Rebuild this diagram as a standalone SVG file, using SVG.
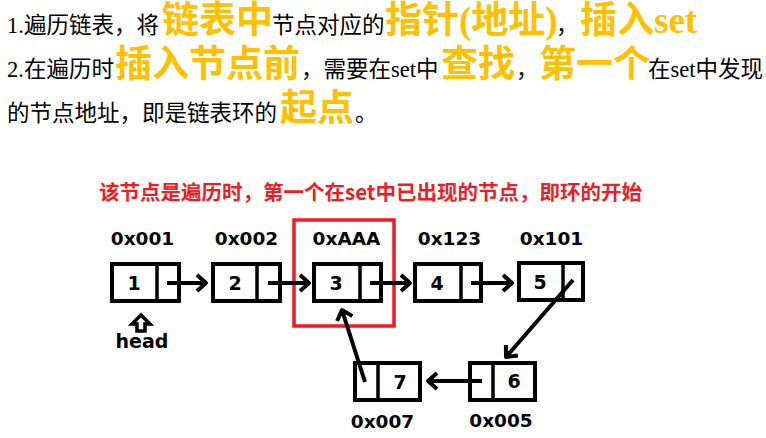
<svg xmlns="http://www.w3.org/2000/svg" width="766" height="438" viewBox="0 0 766 438">
<style>
.t{font-family:"Liberation Serif","Noto Sans CJK SC",serif;font-size:22.5px;fill:#000}
.hl{font-size:37px;font-weight:bold;fill:#FFC000}
.title{font-family:"Noto Sans CJK SC","Noto Sans",sans-serif;font-size:20.5px;font-weight:bold;fill:#EE1C25}
.lbl{font-family:"DejaVu Sans",sans-serif;font-weight:bold;font-size:18.5px;fill:#000;text-anchor:middle}
.num{font-family:"DejaVu Sans",sans-serif;font-weight:bold;font-size:19px;fill:#000;text-anchor:middle}
.box{fill:#fff;stroke:#000;stroke-width:4}
.div{stroke:#000;stroke-width:3.5}
.link{stroke:#000;stroke-width:4;fill:none;marker-end:url(#chev)}
</style>
<defs>
<marker id="chev" markerUnits="userSpaceOnUse" viewBox="0 0 16 20" refX="12" refY="10" markerWidth="16" markerHeight="20" orient="auto" overflow="visible">
<path d="M3,2 L12,10 L3,18" fill="none" stroke="#000" stroke-width="4" stroke-linejoin="round"/>
</marker>
</defs>
<rect width="766" height="438" fill="#fff"/>

<g id="intro">
<text class="t" y="33"><tspan x="7">1.遍历链表，将</tspan><tspan class="hl" x="162">链表中</tspan><tspan x="272">节点对应的</tspan><tspan class="hl" x="385">指针(地址)</tspan><tspan x="556">，</tspan><tspan class="hl" x="580">插入set</tspan></text>
<text class="t" y="77"><tspan x="7">2.在遍历时</tspan><tspan class="hl" x="115">插入节点前</tspan><tspan x="301">，需要在set中</tspan><tspan class="hl" x="441">查找</tspan><tspan x="516">，</tspan><tspan class="hl" x="539">第一个</tspan><tspan x="648">在set中发现</tspan></text>
<text class="t" y="121"><tspan x="7">的节点地址，即是链表环的</tspan><tspan class="hl" x="280">起点</tspan><tspan x="355">。</tspan></text>
</g>

<g id="title"><text class="title" x="99" y="200">该节点是遍历时，第一个在set中已出现的节点，即环的开始</text></g>

<g id="highlight"><rect x="294" y="220" width="100" height="106" fill="none" stroke="#ED1C24" stroke-width="3.5"/></g>

<g id="node1"><rect class="box" x="112" y="264" width="67" height="37"/><line class="div" x1="157" y1="264" x2="157" y2="301"/><text class="num" x="134" y="290">1</text><text class="lbl" x="142.5" y="245">0x001</text></g>
<g id="node2"><rect class="box" x="213" y="264" width="67" height="37"/><line class="div" x1="257" y1="264" x2="257" y2="301"/><text class="num" x="235" y="290">2</text><text class="lbl" x="246.5" y="245">0x002</text></g>
<g id="node3"><rect class="box" x="314" y="264" width="67" height="37"/><line class="div" x1="360" y1="264" x2="360" y2="301"/><text class="num" x="336" y="290">3</text><text class="lbl" x="346.5" y="245">0xAAA</text></g>
<g id="node4"><rect class="box" x="415" y="264" width="66" height="37"/><line class="div" x1="461" y1="264" x2="461" y2="301"/><text class="num" x="437" y="290">4</text><text class="lbl" x="449.5" y="245">0x123</text></g>
<g id="node5"><rect class="box" x="519" y="263" width="64" height="37"/><line class="div" x1="563" y1="263" x2="563" y2="300"/><text class="num" x="540" y="289">5</text><text class="lbl" x="551.5" y="245">0x101</text></g>
<g id="node6"><rect class="box" x="470" y="363" width="65" height="37"/><line class="div" x1="493" y1="363" x2="493" y2="400"/><text class="num" x="514" y="388">6</text><text class="lbl" x="501" y="427">0x005</text></g>
<g id="node7"><rect class="box" x="355" y="363" width="65" height="37"/><line class="div" x1="378" y1="363" x2="378" y2="400"/><text class="num" x="400" y="389">7</text><text class="lbl" x="382.5" y="428">0x007</text></g>

<g id="head"><path d="M141,315 L132,324 L137,324 L137,331 L145,331 L145,324 L150,324 Z" fill="#fff" stroke="#000" stroke-width="3.5" stroke-linejoin="miter"/><text class="num" x="142" y="348">head</text></g>

<g id="connectors">
<line class="link" x1="167" y1="283" x2="206" y2="283"/>
<line class="link" x1="268" y1="283" x2="309" y2="283"/>
<line class="link" x1="370" y1="283" x2="410" y2="283"/>
<line class="link" x1="471" y1="283" x2="512" y2="283"/>
<line class="link" x1="573" y1="280" x2="506" y2="357"/>
<line class="link" x1="482" y1="381" x2="428" y2="381"/>
<line class="link" x1="365" y1="382" x2="342" y2="310"/>
</g>
</svg>
